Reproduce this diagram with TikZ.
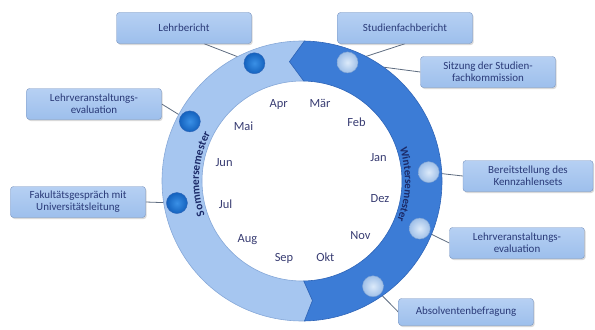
\documentclass[tikz,border=0pt]{standalone}
\usepackage{fontspec}
\setmainfont{Carlito}
\usepackage{tikz}
\usetikzlibrary{decorations.text}
\usetikzlibrary{shadows}

\definecolor{ringlight}{HTML}{A6C6F0}
\definecolor{ringlightline}{HTML}{86A8D8}
\definecolor{ringdark}{HTML}{3C7CD6}
\definecolor{ringdarkline}{HTML}{2F65B8}
\definecolor{boxtop}{HTML}{B6D0F3}
\definecolor{boxbottom}{HTML}{9DBFEC}
\definecolor{boxline}{HTML}{7893BE}
\definecolor{textnavy}{HTML}{2A3A78}
\definecolor{monthnavy}{HTML}{383C72}
\definecolor{semnavy}{HTML}{1B2A68}
\definecolor{linegray}{HTML}{5E6C80}
\definecolor{sdotin}{HTML}{3A90E6}
\definecolor{sdotout}{HTML}{1462BE}
\definecolor{wdotin}{HTML}{DCEAFA}
\definecolor{wdotout}{HTML}{A0C0E8}
\definecolor{wdotline}{HTML}{7FA3D3}

\pgfdeclarelayer{back}
\pgfsetlayers{back,main}

\begin{document}
\begin{tikzpicture}[x=1bp,y=1bp,every node/.style={font=\fontsize{11}{12}\selectfont, text=textnavy}]

\tikzstyle{task}=[rectangle, rounded corners=3bp, draw=boxline, top color=boxtop, bottom color=boxbottom, minimum width=135bp, minimum height=31bp, inner sep=2bp, align=center, drop shadow={shadow xshift=1.2bp, shadow yshift=-1.5bp, opacity=0.3}]
\tikzstyle{summerdot}=[circle, minimum size=21bp, inner sep=0pt, draw=ringdarkline, inner color=sdotin, outer color=sdotout]
\tikzstyle{winterdot}=[circle, minimum size=21bp, inner sep=0pt, draw=wdotline, inner color=wdotin, outer color=wdotout]
\tikzstyle{month}=[font=\fontsize{12.5}{12.5}\selectfont, text=monthnavy]
\tikzstyle{connector}=[draw=linegray, line width=0.8bp]

\useasboundingbox (0,0) rectangle (595,329);
\coordinate (c) at (302,148);

\fill[ringlight, draw=ringlightline, line width=0.6bp] ([shift={(c)}]89:140) arc[start angle=89, end angle=271, radius=140] -- ([shift={(c)}]275:120) -- ([shift={(c)}]271:100) arc[start angle=271, end angle=89, radius=100] -- ([shift={(c)}]96:120) -- cycle;
\fill[ringdark, draw=ringdarkline, line width=0.6bp] ([shift={(c)}]-89:140) arc[start angle=-89, end angle=89, radius=140] -- ([shift={(c)}]96:120) -- ([shift={(c)}]89:100) arc[start angle=89, end angle=-89, radius=100] -- ([shift={(c)}]-85:120) -- cycle;

\path[decorate, decoration={text along path, text align=center, text color=semnavy, text={|\bfseries\fontsize{11.5}{11.5}\selectfont|Sommersemester}}] ([shift={(c)}]200:103) arc[start angle=200, end angle=152, radius=103];
\path[decorate, decoration={text along path, text align=center, text color=semnavy, text={|\bfseries\fontsize{11}{11}\selectfont|Wintersemester}}] ([shift={(c)}]20:103) arc[start angle=20, end angle=-24, radius=103];

\foreach \m [count=\i from 0] in {Mär,Apr,Mai,Jun,Jul,Aug,Sep,Okt,Nov,Dez,Jan,Feb}
	\node[month] (month\i) at ([shift={(c)}]{77+30*\i}:80) {\m};

\node[summerdot] (dotLehr) at ([shift={(c)}]112:127) {};
\node[summerdot] (dotEvalS) at ([shift={(c)}]152:127) {};
\node[summerdot] (dotFak) at ([shift={(c)}]190:127) {};
\node[winterdot] (dotStud) at ([shift={(c)}]69:127) {};
\node[winterdot] (dotBereit) at ([shift={(c)}]4:127) {};
\node[winterdot] (dotEvalW) at ([shift={(c)}]-22:127) {};
\node[winterdot] (dotAbs) at ([shift={(c)}]-56:127) {};

\node[task] (lehrbericht) at (184,301) {Lehrbericht};
\node[task] (evalS) at (94,225) {Lehrveranstaltungs-\\evaluation};
\node[task] (fakultaet) at (78,127) {Fakultätsgespräch mit\\Universitätsleitung};
\node[task] (studienfach) at (405,301) {Studienfachbericht};
\node[task] (sitzung) at (488,257) {Sitzung der Studien-\\fachkommission};
\node[task, minimum width=130bp] (bereit) at (528,153) {Bereitstellung des\\Kennzahlensets};
\node[task] (evalW) at (517,86) {Lehrveranstaltungs-\\evaluation};
\node[task, minimum height=27bp] (absolv) at (466,17) {Absolventenbefragung};

\begin{pgfonlayer}{back}
\draw[connector] (lehrbericht.-38) -- (dotLehr);
\draw[connector] (evalS.east) -- (dotEvalS);
\draw[connector] (fakultaet.east) -- (dotFak);
\draw[connector] (studienfach.south) -- (dotStud);
\draw[connector] (sitzung.west) -- (dotStud);
\draw[connector] (bereit.west) -- (dotBereit);
\draw[connector] (evalW.west) -- (dotEvalW);
\draw[connector] (absolv.west) -- (dotAbs);
\end{pgfonlayer}
\end{tikzpicture}
\end{document}
